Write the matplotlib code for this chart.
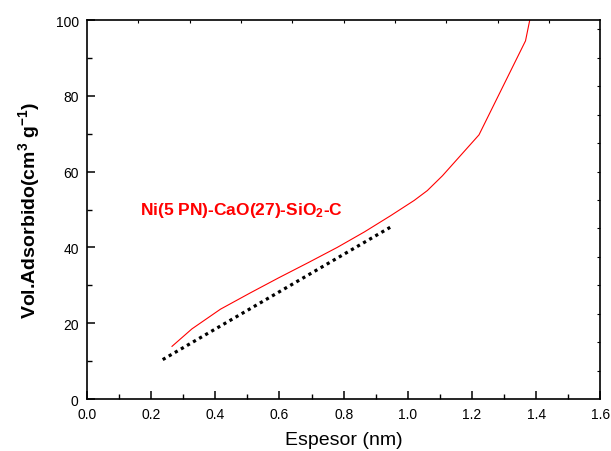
import matplotlib
matplotlib.use("Agg")
import matplotlib.pyplot as plt
import numpy as np

plt.rcParams['font.family'] = ['Liberation Sans', 'DejaVu Sans']
plt.rcParams['mathtext.fontset'] = 'custom'
plt.rcParams['mathtext.rm'] = 'Liberation Sans:bold'
plt.rcParams['mathtext.it'] = 'Liberation Sans:bold'
plt.rcParams['mathtext.bf'] = 'Liberation Sans:bold'
plt.rcParams['mathtext.default'] = 'rm'

# t-plot: adsorbed volume vs. statistical film thickness
thickness = [0.265, 0.327, 0.416, 0.509, 0.598, 0.69, 0.78, 0.865, 0.947,
             1.02, 1.061, 1.108, 1.222, 1.367, 1.39]
volume = [13.9, 18.5, 23.7, 28.0, 32.0, 36.0, 40.0, 44.1, 48.4,
          52.4, 55.0, 58.9, 69.7, 94.5, 104.0]

# linear fit region
fit_x = [0.236, 0.945]
fit_y = [10.4, 45.3]

sample_label = "Ni(5 PN)-CaO(27)-SiO$_2$-C"

fig = plt.figure(figsize=(6.11, 4.52), dpi=100)
ax = fig.add_axes([0.1424, 0.115, 0.840, 0.8385])

ax.plot(thickness, volume, color='#ff0000', lw=0.8)
ax.plot(fit_x, fit_y, color='black', lw=2.3, linestyle=(0, (1, 1.2)),
        dash_capstyle='butt')

ax.text(0.166, 49.9, sample_label, color='#ff0000', fontsize=12.5,
        fontweight='bold', va='center', ha='left')

ax.set_xlim(0, 1.6)
ax.set_ylim(0, 100)
ax.set_xticks(np.arange(0, 1.61, 0.2))
ax.set_xticks(np.arange(0.1, 1.6, 0.2), minor=True)
ax.set_yticks(np.arange(0, 101, 20))
ax.set_yticks(np.arange(10, 100, 20), minor=True)
ax.xaxis.set_major_formatter(matplotlib.ticker.FormatStrFormatter('%.1f'))

ax.tick_params(which='major', direction='in', length=6, width=1.1,
               labelsize=10, top=False, right=False)
ax.tick_params(axis='x', which='major', pad=6)
ax.tick_params(axis='y', which='major', pad=6)
ax.tick_params(which='minor', direction='in', length=3.5, width=1.0,
               top=False, right=False)
for s in ax.spines.values():
    s.set_linewidth(1.2)

# small ticks on the opposite axes
sec_x = ax.secondary_xaxis('top')
sec_x.set_xticks(np.arange(0.16, 1.5, 0.16))
sec_x.tick_params(direction='in', length=2, width=0.8, labeltop=False)
sec_x.spines['top'].set_visible(False)
sec_y = ax.secondary_yaxis('right')
sec_y.set_yticks(np.arange(7.5, 98, 7.5))
sec_y.tick_params(direction='in', length=2, width=0.8, labelright=False)
sec_y.spines['right'].set_visible(False)

ax.set_xlabel('Espesor (nm)', fontsize=14, labelpad=7)
ax.set_ylabel('Vol.Adsorbido(cm$^3$ g$^{-1}$)', fontsize=14,
              fontweight='bold', labelpad=10)

fig.savefig('out.png', dpi=100)
